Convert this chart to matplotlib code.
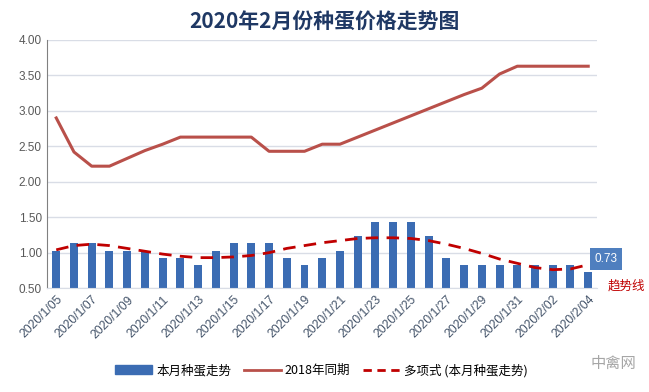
import matplotlib
matplotlib.use("Agg")
import matplotlib.pyplot as plt
from matplotlib.lines import Line2D
from matplotlib.patches import Patch

plt.rcParams['font.family'] = ['Noto Sans CJK SC', 'DejaVu Sans']

# dates 2020/1/05 .. 2020/2/04
dates = ["2020/1/%02d" % d for d in range(5, 32)] + ["2020/2/%02d" % d for d in range(1, 5)]

# this month hatching egg price
this_month = [1.03, 1.13, 1.13, 1.03, 1.03, 1.03, 0.93, 0.93, 0.83, 1.03,
              1.13, 1.13, 1.13, 0.93, 0.83, 0.93, 1.03, 1.23, 1.43, 1.43,
              1.43, 1.23, 0.93, 0.83, 0.83, 0.83, 0.83, 0.83, 0.83, 0.83, 0.73]

# same period 2018
same_2018 = [2.90, 2.42, 2.22, 2.22, 2.33, 2.44, 2.53, 2.63, 2.63, 2.63,
             2.63, 2.63, 2.43, 2.43, 2.43, 2.53, 2.53, 2.63, 2.73, 2.83,
             2.93, 3.03, 3.13, 3.23, 3.32, 3.52, 3.63, 3.63, 3.63, 3.63, 3.63]

# polynomial trend line
trend = [1.04, 1.10, 1.12, 1.10, 1.06, 1.02, 0.98, 0.95, 0.93, 0.93,
         0.94, 0.96, 1.00, 1.06, 1.10, 1.14, 1.17, 1.20, 1.21, 1.21,
         1.20, 1.17, 1.12, 1.06, 0.99, 0.91, 0.85, 0.79, 0.76, 0.77, 0.83]

yticks = [0.5, 1.0, 1.5, 2.0, 2.5, 3.0, 3.5, 4.0]

x = list(range(len(dates)))

fig = plt.figure(figsize=(6.49, 3.92), dpi=100)
ax = fig.add_axes([0.073, 0.265, 0.847, 0.633])

bar_c = "#3b6cb3"
line_c = "#b9504a"
trend_c = "#c00000"

ax.bar(x, this_month, width=0.45, bottom=0, color=bar_c, zorder=2)
ax.plot(x, same_2018, color=line_c, lw=2.2, zorder=3)
ax.plot(x, trend, color=trend_c, lw=2.0, ls=(0, (4.5, 3)), zorder=4)

ax.set_xlim(-0.5, len(dates) - 0.5)
ax.set_ylim(0.5, 4.0)
ax.set_yticks(yticks)
ax.set_yticklabels(["%.2f" % v for v in yticks], fontsize=8.5, color="#595959",
                   family=["Liberation Sans", "DejaVu Sans"])
ax.set_xticks(x[::2])
ax.set_xticklabels(dates[::2], rotation=45, ha="right", rotation_mode="anchor",
                   fontsize=8.8, color="#44546a", family=["Liberation Sans", "DejaVu Sans"])
ax.tick_params(axis="both", length=0, pad=4)
ax.grid(axis="y", color="#d9dde6", lw=1, zorder=0)
for s in ["top", "right"]:
    ax.spines[s].set_visible(False)
ax.spines["left"].set_color("#808080")
ax.spines["bottom"].set_color("#d9dde6")

# data label of the last bar
ax.annotate("%.2f" % this_month[-1], xy=(x[-1], this_month[-1]), xytext=(18, 13),
            textcoords="offset pixels", ha="center", va="center", color="white",
            fontsize=8.5, family=["Liberation Sans", "DejaVu Sans"],
            bbox=dict(boxstyle="square,pad=0.4", fc="#4f7fbf", ec="none"))

fig.text(0.5, 0.944, "2020年2月份种蛋价格走势图", ha="center", va="center",
         fontsize=15, fontweight="bold", color="#1f3864")
fig.text(0.965, 0.27, "趋势线", ha="center", va="center", fontsize=9, color="#c00000")
fig.text(0.945, 0.072, "中禽网", ha="center", va="center", fontsize=11, color="#a6a6a6")

handles = [Patch(color=bar_c),
           Line2D([], [], color=line_c, lw=2),
           Line2D([], [], color=trend_c, lw=2, ls=(0, (3, 2)))]
labels = ["本月种蛋走势", "2018年同期", "多项式 (本月种蛋走势)"]
fig.legend(handles, labels, loc="center", bbox_to_anchor=(0.495, 0.055), ncol=3,
           frameon=False, fontsize=9, handlelength=3.0, columnspacing=1.0,
           handletextpad=0.3)

fig.savefig("out.png", dpi=100)
